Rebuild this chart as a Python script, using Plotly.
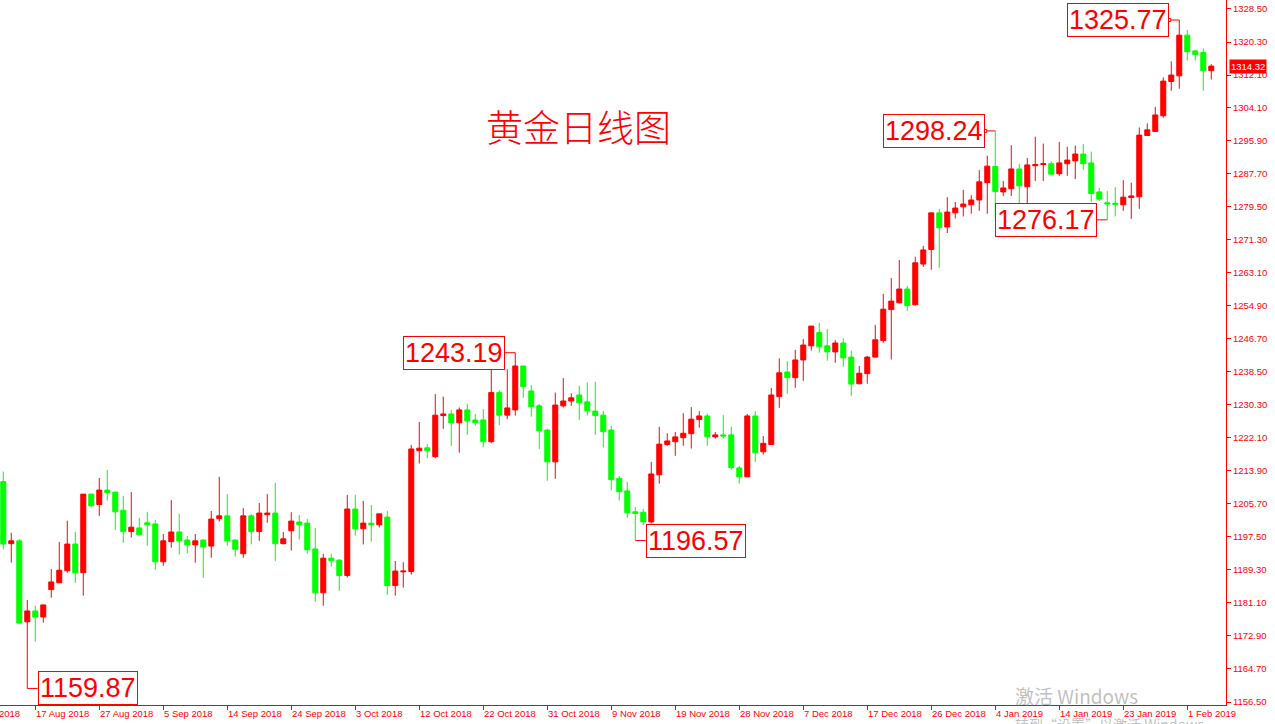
import plotly.graph_objects as go

# ---------------- data ----------------
opens = [1211.2, 1195.8, 1196.5, 1176.4, 1179.1, 1177.6, 1184.4, 1186.1, 1189.1, 1195.7,
         1188.6, 1208.1, 1205.5, 1209.1, 1208.6, 1204.1, 1198.8, 1199.7, 1201.0, 1200.7,
         1191.3, 1196.3, 1198.7, 1196.7, 1195.5, 1196.7, 1195.2, 1202.0, 1202.7, 1196.7,
         1193.3, 1202.7, 1198.8, 1203.0, 1203.4, 1195.8, 1199.0, 1201.2, 1200.9, 1194.5,
         1183.6, 1192.2, 1191.7, 1187.9, 1204.4, 1199.5, 1200.9, 1200.5, 1202.4, 1185.4,
         1188.8, 1188.9, 1218.9, 1219.6, 1217.4, 1227.6, 1228.0, 1225.8, 1229.0, 1226.5,
         1226.5, 1221.1, 1233.3, 1227.7, 1229.0, 1239.9, 1233.7, 1230.0, 1224.0, 1216.1,
         1230.0, 1231.2, 1232.7, 1231.0, 1228.7, 1227.7, 1224.0, 1212.0, 1208.9, 1203.7,
         1203.6, 1201.2, 1212.9, 1220.4, 1221.1, 1222.1, 1223.1, 1226.6, 1227.5, 1222.3,
         1222.8, 1222.8, 1214.6, 1212.4, 1227.5, 1218.6, 1220.4, 1232.3, 1238.4, 1237.0,
         1241.4, 1244.9, 1248.2, 1244.9, 1243.4, 1245.6, 1242.1, 1235.5, 1238.0, 1242.1,
         1246.2, 1253.9, 1255.6, 1259.0, 1255.1, 1265.2, 1268.8, 1277.9, 1274.4, 1277.9,
         1279.4, 1279.9, 1281.1, 1285.4, 1289.4, 1283.1, 1283.9, 1288.8, 1284.4, 1289.6,
         1289.9, 1290.1, 1287.6, 1290.1, 1290.8, 1292.5, 1290.3, 1283.1, 1280.4, 1280.3,
         1279.9, 1281.7, 1281.9, 1297.1, 1298.1, 1302.0, 1310.5, 1311.9, 1322.0, 1318.1,
         1317.7, 1313.2]
highs = [1213.7, 1198.5, 1196.9, 1181.8, 1180.4, 1180.6, 1189.5, 1196.2, 1201.5, 1198.7,
         1208.1, 1208.1, 1212.1, 1214.1, 1208.6, 1207.6, 1208.6, 1202.2, 1203.7, 1201.7,
         1198.2, 1206.6, 1203.2, 1197.7, 1198.2, 1196.9, 1203.9, 1212.4, 1208.1, 1196.9,
         1204.6, 1203.2, 1205.9, 1208.1, 1210.9, 1198.7, 1203.6, 1202.9, 1201.9, 1199.7,
         1193.3, 1193.3, 1192.0, 1207.9, 1207.9, 1206.4, 1205.4, 1203.2, 1203.9, 1191.5,
         1191.2, 1220.3, 1226.0, 1220.5, 1232.9, 1232.3, 1229.0, 1229.6, 1230.5, 1228.0,
         1229.2, 1239.3, 1233.9, 1239.1, 1243.19, 1239.9, 1235.2, 1230.5, 1224.3, 1233.3,
         1236.9, 1233.1, 1235.0, 1235.8, 1236.0, 1228.7, 1225.0, 1212.6, 1211.1, 1204.9,
         1204.4, 1216.1, 1224.8, 1223.2, 1223.5, 1228.2, 1229.7, 1228.7, 1228.1, 1223.5,
         1227.7, 1224.8, 1215.1, 1228.0, 1228.7, 1222.5, 1234.4, 1241.8, 1241.1, 1243.9,
         1246.6, 1249.8, 1250.6, 1249.1, 1246.3, 1246.8, 1243.7, 1239.9, 1242.4, 1250.1,
         1257.8, 1261.7, 1266.2, 1259.8, 1267.0, 1269.7, 1277.9, 1278.9, 1281.8, 1280.6,
         1283.6, 1282.3, 1288.5, 1292.1, 1298.24, 1285.8, 1294.7, 1290.1, 1291.5, 1296.8,
         1295.1, 1290.7, 1295.5, 1294.3, 1294.6, 1295.0, 1293.1, 1284.1, 1283.3, 1284.3,
         1286.0, 1285.4, 1299.1, 1300.1, 1304.2, 1311.5, 1315.5, 1325.77, 1323.3, 1318.3,
         1318.7, 1314.8]
lows = [1194.4, 1191.1, 1175.8, 1159.87, 1171.5, 1176.2, 1182.4, 1186.1, 1188.6, 1186.1,
        1182.9, 1204.8, 1202.7, 1206.5, 1199.2, 1196.0, 1197.3, 1197.8, 1195.3, 1189.3,
        1190.3, 1194.8, 1193.1, 1193.4, 1191.1, 1187.3, 1192.3, 1201.3, 1195.3, 1192.6,
        1192.3, 1195.6, 1196.5, 1201.0, 1191.5, 1195.6, 1194.1, 1196.8, 1193.3, 1181.4,
        1180.4, 1190.1, 1184.1, 1187.4, 1197.8, 1195.6, 1196.3, 1199.8, 1183.1, 1182.9,
        1184.9, 1188.1, 1215.7, 1217.0, 1217.0, 1224.3, 1220.1, 1218.4, 1222.8, 1225.1,
        1219.7, 1220.7, 1225.2, 1226.7, 1227.6, 1232.0, 1227.3, 1219.3, 1211.4, 1211.9,
        1229.6, 1230.0, 1226.5, 1227.6, 1222.8, 1219.7, 1209.0, 1206.5, 1202.2, 1196.57,
        1200.4, 1200.8, 1210.7, 1220.1, 1217.6, 1220.1, 1219.4, 1224.6, 1220.1, 1221.9,
        1221.9, 1214.2, 1210.7, 1212.4, 1216.1, 1217.9, 1220.4, 1229.5, 1233.0, 1234.5,
        1236.2, 1243.7, 1243.2, 1241.2, 1240.7, 1239.7, 1232.5, 1235.3, 1235.5, 1242.0,
        1245.7, 1241.5, 1255.4, 1253.6, 1254.9, 1264.5, 1263.8, 1264.3, 1272.9, 1276.5,
        1277.0, 1277.7, 1278.4, 1277.7, 1276.3, 1282.1, 1282.1, 1278.9, 1279.8, 1285.8,
        1285.8, 1287.4, 1287.1, 1287.1, 1286.3, 1288.6, 1280.7, 1280.9, 1276.17, 1277.0,
        1278.4, 1276.4, 1278.9, 1297.0, 1298.1, 1301.5, 1308.2, 1308.7, 1315.7, 1315.7,
        1308.2, 1311.0]
closes = [1195.7, 1196.5, 1176.1, 1179.1, 1177.6, 1180.6, 1186.3, 1189.2, 1195.7, 1188.6,
          1208.1, 1205.2, 1209.1, 1208.5, 1203.7, 1198.8, 1199.9, 1198.0, 1200.5, 1191.3,
          1196.5, 1198.7, 1196.5, 1195.5, 1196.5, 1195.0, 1201.9, 1202.7, 1196.5, 1194.4,
          1202.7, 1198.8, 1203.4, 1203.4, 1195.8, 1197.0, 1201.4, 1200.5, 1194.3, 1183.6,
          1192.2, 1191.6, 1187.9, 1204.4, 1199.5, 1200.9, 1200.5, 1203.2, 1185.4, 1189.0,
          1189.0, 1219.3, 1219.5, 1218.9, 1227.7, 1228.0, 1225.8, 1229.0, 1226.3, 1225.8,
          1221.1, 1233.3, 1227.7, 1229.5, 1239.9, 1234.8, 1229.8, 1223.8, 1216.1, 1230.2,
          1231.2, 1232.0, 1230.8, 1228.8, 1227.6, 1223.6, 1211.7, 1208.7, 1203.5, 1203.3,
          1201.2, 1213.1, 1220.5, 1221.3, 1222.3, 1223.2, 1226.7, 1227.5, 1222.4, 1222.8,
          1222.5, 1214.7, 1212.4, 1227.5, 1218.4, 1220.7, 1232.7, 1238.2, 1237.0, 1241.4,
          1245.1, 1249.8, 1244.7, 1243.4, 1245.6, 1241.9, 1235.4, 1238.1, 1242.1, 1246.4,
          1254.0, 1256.0, 1259.0, 1254.9, 1265.5, 1268.7, 1277.9, 1274.2, 1278.1, 1279.1,
          1280.1, 1281.1, 1285.6, 1289.5, 1283.2, 1284.1, 1288.8, 1284.6, 1289.8, 1289.9,
          1290.1, 1287.5, 1290.3, 1291.0, 1292.5, 1290.1, 1282.7, 1281.3, 1280.1, 1280.0,
          1281.8, 1282.1, 1297.2, 1298.5, 1302.2, 1310.6, 1312.1, 1322.0, 1317.9, 1317.2,
          1313.2, 1314.32]

date_labels = ["17 Aug 2018", "27 Aug 2018", "5 Sep 2018", "14 Sep 2018", "24 Sep 2018",
               "3 Oct 2018", "12 Oct 2018", "22 Oct 2018", "31 Oct 2018", "9 Nov 2018",
               "19 Nov 2018", "28 Nov 2018", "7 Dec 2018", "17 Dec 2018", "26 Dec 2018",
               "4 Jan 2019", "14 Jan 2019", "23 Jan 2019", "1 Feb 2019"]
date_label_bars = [4, 12, 20, 28, 36, 44, 52, 60, 68, 76, 84, 92, 100, 108, 116, 124, 132, 140, 148]

price_ticks = [1156.50, 1164.70, 1172.90, 1181.10, 1189.30, 1197.50, 1205.70, 1213.90,
               1222.10, 1230.30, 1238.50, 1246.70, 1254.90, 1263.10, 1271.30, 1279.50,
               1287.70, 1295.90, 1304.10, 1312.10, 1320.30, 1328.50]

# callouts: (bar index, price, side of the box relative to the bar, has anchor square)
callout_bars = [3, 64, 79, 124, 138, 147]
callout_prices = [1159.87, 1243.19, 1196.57, 1298.24, 1276.17, 1325.77]
callout_sides = ["right", "left", "right", "left", "left", "left"]
callout_square = [False, False, False, True, False, True]

title_text = "黄金日线图"
last_price = closes[-1]

# ---------------- figure ----------------
RED = "#FF0000"
GREEN = "#00FF00"
x = list(range(len(opens)))
X_RANGE = [-0.41, 152.84]
Y_RANGE = [1155.76, 1330.73]

fig = go.Figure()
fig.add_trace(go.Candlestick(
    x=x, open=opens, high=highs, low=lows, close=closes,
    increasing=dict(line=dict(color=RED, width=1), fillcolor=RED),
    decreasing=dict(line=dict(color=GREEN, width=1), fillcolor=GREEN),
    whiskerwidth=0, hoverinfo="skip", showlegend=False,
))

annotations = []
shapes = []

# date labels (left aligned after the tick, MT4 style)
for b, lab in zip(date_label_bars, date_labels):
    annotations.append(dict(x=b, y=0, xref="x", yref="paper", text=lab, showarrow=False,
                            xanchor="left", yanchor="top", xshift=-1, yshift=-1,
                            font=dict(family="Liberation Sans", size=9.5, color=RED)))
# partially hidden label at left edge
first_bar = date_label_bars[0] - 8
annotations.append(dict(x=(first_bar - X_RANGE[0]) / (X_RANGE[1] - X_RANGE[0]), y=0,
                        xref="paper", yref="paper", text="8 Aug 2018", showarrow=False,
                        xanchor="left", yanchor="top", xshift=-1, yshift=-1,
                        font=dict(family="Liberation Sans", size=9.5, color=RED)))

# callout boxes with leader lines
OFF_PX = 10.5
bar_px = 1226 / (X_RANGE[1] - X_RANGE[0])
for b, p, side, sq in zip(callout_bars, callout_prices, callout_sides, callout_square):
    sign = 1 if side == "right" else -1
    annotations.append(dict(x=b, y=p, xref="x", yref="y", text=f"{p:.2f}", showarrow=False,
                            xanchor="left" if side == "right" else "right", yanchor="middle",
                            xshift=sign * OFF_PX,
                            font=dict(family="Liberation Sans", size=27, color=RED),
                            bgcolor="white", bordercolor=RED, borderwidth=1, borderpad=1))
    shapes.append(dict(type="line", xref="x", yref="y", x0=b, x1=b + sign * OFF_PX / bar_px,
                       y0=p, y1=p, line=dict(color=RED, width=1)))
    if sq:
        shapes.append(dict(type="rect", xref="x", yref="y", xsizemode="pixel", ysizemode="pixel",
                           xanchor=b, yanchor=p, x0=sign * OFF_PX + sign * -0.5 - 1.5,
                           x1=sign * OFF_PX + sign * -0.5 + 1.5, y0=-1.5, y1=1.5,
                           line=dict(color=RED, width=1), fillcolor="white"))

# title
annotations.append(dict(x=0.4715, y=0.8213, xref="paper", yref="paper", text=title_text,
                        showarrow=False, xanchor="center", yanchor="middle",
                        font=dict(family="Noto Sans CJK SC", size=37, color=RED, weight=300)))

# current price tag
annotations.append(dict(x=1, y=last_price, xref="paper", yref="y", text=f"{last_price:.2f}",
                        showarrow=False, xanchor="left", yanchor="middle", xshift=3,
                        font=dict(family="Liberation Sans", size=9.5, color="white"),
                        bgcolor=RED, borderpad=1))

# screen watermark
annotations.append(dict(x=1013 / 1226, y=0.0128, xref="paper", yref="paper", text="激活 Windows",
                        showarrow=False, xanchor="left", yanchor="middle",
                        font=dict(family="Noto Sans CJK SC", size=19, color="rgba(170,170,170,0.75)")))
annotations.append(dict(x=1013 / 1226, y=-0.027, xref="paper", yref="paper",
                        text="转到“设置”以激活 Windows。", showarrow=False, xanchor="left",
                        yanchor="middle",
                        font=dict(family="Noto Sans CJK SC", size=14, color="rgba(170,170,170,0.75)")))

fig.update_layout(
    width=1275, height=724,
    margin=dict(l=0, r=49, t=0, b=19),
    paper_bgcolor="white", plot_bgcolor="white",
    boxgap=0.375, boxgroupgap=0,
    hovermode=False,
    annotations=annotations, shapes=shapes,
    xaxis=dict(range=X_RANGE, rangeslider=dict(visible=False), showgrid=False, zeroline=False,
               showline=True, linecolor=RED, linewidth=1, ticks="outside", ticklen=4,
               tickcolor=RED, tickwidth=1, tickvals=date_label_bars, showticklabels=False),
    yaxis=dict(range=Y_RANGE, side="right", showgrid=False, zeroline=False, showline=True,
               linecolor=RED, linewidth=1, ticks="outside", ticklen=4, tickcolor=RED,
               tickvals=price_ticks, ticktext=[f"{v:.2f}" for v in price_ticks],
               tickfont=dict(family="Liberation Sans", size=9.5, color=RED)),
)

fig.write_html("out.html", config={"displayModeBar": False},
               post_script="document.body.style.margin='0';document.body.style.padding='0';")
